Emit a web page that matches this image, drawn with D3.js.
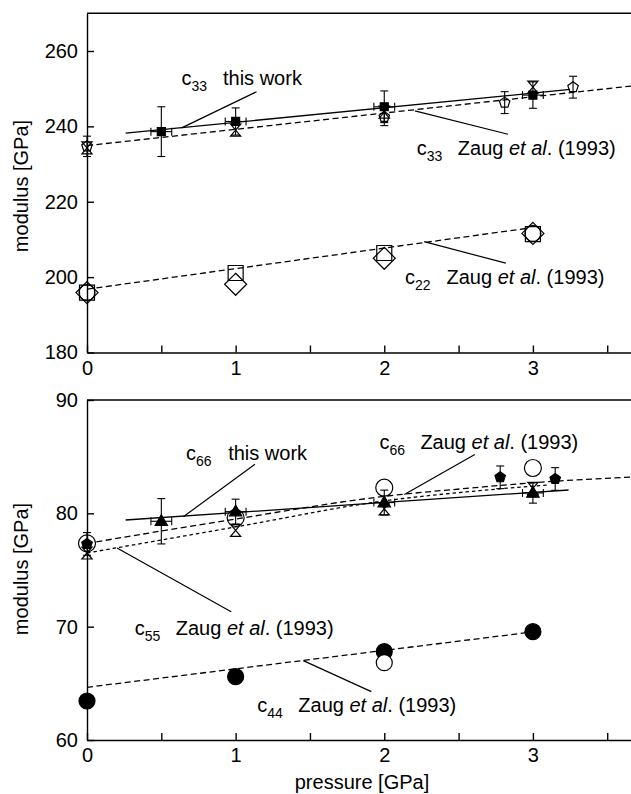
<!DOCTYPE html>
<html>
<head>
<meta charset="utf-8">
<script src="https://cdn.jsdelivr.net/npm/d3@7"></script>
<style>
body { margin: 0; background: #fff; }
text { font-family: Arial, "Liberation Sans", sans-serif; fill: #000; }
</style>
</head>
<body>
<svg id="chart" width="631" height="794"></svg>
<script>
// ---- data (pressure in GPa, modulus in GPa) ----
const pressureTicks = [0, 0.5, 1, 1.5, 2, 2.5, 3, 3.5];
const topTicks = [180, 200, 220, 240, 260];
const bottomTicks = [60, 70, 80, 90];

// upper panel
const c33WorkP = [0.5, 1, 2, 3];
const c33WorkV = [238.6, 241.3, 245.2, 248.3];
const c33WorkErr = [6.6, 3.6, 4.2, 3.5];
const c33WorkFitP = [0.26, 3.25];
const c33WorkFitV = [238.2, 249.8];

const c33ZaugP = [0, 1, 2, 3];
const c33ZaugV = [234.3, 239.0, 243.8, 250.4];
const c33ZaugFitP = [0, 3.66];
const c33ZaugFitV = [234.9, 250.7];

const c33OtherP = [0, 2, 2.81, 3.27];
const c33OtherV = [234.7, 242.5, 246.3, 250.4];
const c33OtherErr = [2.7, 2.3, 2.9, 2.9];

const c22P = [0, 1, 2, 3];
const c22SquareV = [195.9, 201.1, 206.4, 211.4];
const c22DiamondV = [195.9, 198.1, 205.0, 211.6];
const c22CircleP = [0, 3];
const c22CircleV = [195.9, 211.6];
const c22FitP = [0, 2.97];
const c22FitV = [196.8, 213.0];

// lower panel
const c66WorkP = [0.5, 1, 2, 3];
const c66WorkV = [79.3, 80.15, 80.95, 81.8];
const c66WorkErr = [2.0, 1.1, 1.1, 0.9];
const c66WorkFitP = [0.26, 3.24];
const c66WorkFitV = [79.41, 82.06];

const c66ZaugP = [0, 1, 2, 3];
const c66ZaugV = [77.35, 79.6, 82.26, 84.0];
const c66ZaugCurveP = [0, 1, 2, 2.64, 3, 3.66];
const c66ZaugCurveV = [77.35, 79.5, 81.5, 82.3, 82.7, 83.2];

const c55ZaugP = [0, 1, 2, 3];
const c55ZaugV = [76.5, 78.5, 80.4, 82.2];
const c55ZaugCurveP = [0, 1, 2, 2.64, 3.1];
const c55ZaugCurveV = [76.5, 78.8, 81.1, 82.0, 82.5];

const c66OtherP = [0, 2.78, 3.15];
const c66OtherV = [77.3, 83.18, 83.03];
const c66OtherErr = [1.0, 1.0, 1.0];

const c44P = [0, 1, 2, 3];
const c44V = [63.44, 65.59, 67.8, 69.56];
const c44OpenP = [2];
const c44OpenV = [66.82];
const c44FitP = [0, 2.96];
const c44FitV = [64.65, 69.47];

const xErr = 0.07;

const svg = d3.select('#chart');
const x = d3.scaleLinear().domain([0, 3.66]).range([87, 631]);
const yTop = d3.scaleLinear().domain([180, 270]).range([352.5, 13.3]);
const yBot = d3.scaleLinear().domain([60, 90]).range([740, 400]);

const zip = (a, b) => a.map((d, i) => [d, b[i]]);

// ---- symbol paths ----
function square(r) { return `M${-r},${-r}h${2*r}v${2*r}h${-2*r}Z`; }
function diamond(r) { return `M0,${-r}L${r},0L0,${r}L${-r},0Z`; }
function triangle(r) { return `M0,${-r}L${r*0.95},${r*0.65}L${-r*0.95},${r*0.65}Z`; }
function hourglass(r) { return `M${-r*0.85},${-r}H${r*0.85}L${-r*0.85},${r}H${r*0.85}Z`; }
function pentagon(r) {
    var pts = d3.range(5).map(i => {
        var a = -Math.PI/2 + i*2*Math.PI/5;
        return [r*Math.cos(a), r*Math.sin(a)];
    });
    return 'M' + pts.join('L') + 'Z';
}
function circle(r) { return d3.symbol(d3.symbolCircle, Math.PI*r*r)(); }

function drawAxes(y, ticks) {
    var yb = y.range()[0], yt = y.range()[1];
    var gx = svg.append('g')
        .attr('transform', `translate(0,${yb})`)
        .call(d3.axisBottom(x).tickValues(pressureTicks)
            .tickSizeInner(-7).tickSizeOuter(0).tickPadding(8)
            .tickFormat(d => Number.isInteger(d) ? d : ''));
    var gy = svg.append('g')
        .attr('transform', `translate(${x(0)},0)`)
        .call(d3.axisLeft(y).tickValues(ticks)
            .tickSizeInner(-7).tickSizeOuter(0).tickPadding(9));
    [gx, gy].forEach(g => {
        g.attr('font-size', 20);
        g.selectAll('path, line').attr('stroke', '#000').attr('stroke-width', 1.4);
    });
    svg.append('line')
        .attr('x1', x(0)).attr('x2', 631)
        .attr('y1', yt).attr('y2', yt)
        .attr('stroke', '#000').attr('stroke-width', 1.4);
}

function drawLine(y, P, V, dash, curve) {
    var line = d3.line().x(d => x(d[0])).y(d => y(d[1])).curve(curve || d3.curveLinear);
    svg.append('path')
        .attr('d', line(zip(P, V)))
        .attr('fill', 'none')
        .attr('stroke', '#000')
        .attr('stroke-width', 1.3)
        .attr('stroke-dasharray', dash);
}

function drawErrors(y, P, V, E, withX) {
    var g = svg.append('g').attr('stroke', '#000').attr('stroke-width', 1.1);
    P.forEach((p, i) => {
        var cx = x(p), y1 = y(V[i] + E[i]), y2 = y(V[i] - E[i]);
        g.append('line').attr('x1', cx).attr('x2', cx).attr('y1', y1).attr('y2', y2);
        g.append('line').attr('x1', cx-4).attr('x2', cx+4).attr('y1', y1).attr('y2', y1);
        g.append('line').attr('x1', cx-4).attr('x2', cx+4).attr('y1', y2).attr('y2', y2);
        if (withX) {
            var x1 = x(p - xErr), x2 = x(p + xErr), cy = y(V[i]);
            g.append('line').attr('x1', x1).attr('x2', x2).attr('y1', cy).attr('y2', cy);
            g.append('line').attr('x1', x1).attr('x2', x1).attr('y1', cy-4).attr('y2', cy+4);
            g.append('line').attr('x1', x2).attr('x2', x2).attr('y1', cy-4).attr('y2', cy+4);
        }
    });
}

function drawSymbols(y, P, V, shape, filled) {
    svg.append('g').selectAll('path')
        .data(zip(P, V))
        .enter().append('path')
        .attr('transform', d => `translate(${x(d[0])},${y(d[1])})`)
        .attr('d', shape)
        .attr('fill', filled ? '#000' : 'none')
        .attr('stroke', '#000')
        .attr('stroke-width', 1.2);
}

function drawLabel(y, lab) {
    var t = svg.append('text')
        .attr('x', x(lab.cP)).attr('y', y(lab.cV))
        .attr('font-size', 20);
    t.append('tspan').text('c');
    t.append('tspan').attr('font-size', 14).attr('dy', 6).text(lab.sub);
    var r = svg.append('text')
        .attr('x', x(lab.tP)).attr('y', y(lab.cV))
        .attr('font-size', 20);
    if (lab.zaug) {
        r.append('tspan').text('Zaug ');
        r.append('tspan').attr('font-style', 'italic').text('et al');
        r.append('tspan').text('. (1993)');
    } else {
        r.text('this work');
    }
    svg.append('line')
        .attr('x1', x(lab.l[0])).attr('y1', y(lab.l[1]))
        .attr('x2', x(lab.l[2])).attr('y2', y(lab.l[3]))
        .attr('stroke', '#000').attr('stroke-width', 1.2);
}

// annotation anchors (pressure, modulus)
const topLabels = [
    { sub: '33', cP: 0.635, tP: 0.915, cV: 251.0, zaug: false, l: [0.637, 239.6, 1.141, 249.2] },
    { sub: '33', cP: 2.219, tP: 2.495, cV: 232.4, zaug: true, l: [2.206, 244.1, 2.833, 237.9] },
    { sub: '22', cP: 2.14, tP: 2.419, cV: 198.3, zaug: true, l: [2.268, 209.4, 2.818, 203.7] }
];
const bottomLabels = [
    { sub: '66', cP: 0.666, tP: 0.95, cV: 84.7, zaug: false, l: [0.648, 79.7, 1.13, 84.33] },
    { sub: '66', cP: 1.968, tP: 2.243, cV: 85.7, zaug: true, l: [2.135, 81.66, 2.609, 85.19] },
    { sub: '55', cP: 0.321, tP: 0.597, cV: 69.24, zaug: true, l: [0.202, 76.94, 0.97, 71.32] },
    { sub: '44', cP: 1.146, tP: 1.422, cV: 62.47, zaug: true, l: [1.455, 67.0, 1.913, 64.27] }
];

// ---- upper panel ----
drawAxes(yTop, topTicks);
drawLine(yTop, c33ZaugFitP, c33ZaugFitV, '6,3.5');
drawLine(yTop, c22FitP, c22FitV, '6,3.5');
drawLine(yTop, c33WorkFitP, c33WorkFitV, null);
drawErrors(yTop, c33OtherP, c33OtherV, c33OtherErr, false);
drawSymbols(yTop, c33OtherP, c33OtherV, pentagon(5.5), false);
drawSymbols(yTop, c33ZaugP, c33ZaugV, hourglass(6), false);
drawErrors(yTop, c33WorkP, c33WorkV, c33WorkErr, true);
drawSymbols(yTop, c33WorkP, c33WorkV, square(4), true);
drawSymbols(yTop, c22P, c22SquareV, square(7.5), false);
drawSymbols(yTop, c22P, c22DiamondV, diamond(11), false);
drawSymbols(yTop, c22CircleP, c22CircleV, circle(8), false);
topLabels.forEach(l => drawLabel(yTop, l));

// ---- lower panel ----
drawAxes(yBot, bottomTicks);
drawLine(yBot, c66ZaugCurveP, c66ZaugCurveV, '6,3.5', d3.curveMonotoneX);
drawLine(yBot, c55ZaugCurveP, c55ZaugCurveV, '3.5,3', d3.curveMonotoneX);
drawLine(yBot, c44FitP, c44FitV, '6,3.5');
drawLine(yBot, c66WorkFitP, c66WorkFitV, null);
drawSymbols(yBot, c66ZaugP, c66ZaugV, circle(8.5), false);
drawSymbols(yBot, c55ZaugP, c55ZaugV, hourglass(6), false);
drawErrors(yBot, c66OtherP, c66OtherV, c66OtherErr, false);
drawSymbols(yBot, c66OtherP, c66OtherV, pentagon(5.5), true);
drawErrors(yBot, c66WorkP, c66WorkV, c66WorkErr, true);
drawSymbols(yBot, c66WorkP, c66WorkV, triangle(6.5), true);
drawSymbols(yBot, c44P, c44V, circle(8), true);
svg.append('g').selectAll('path')
    .data(zip(c44OpenP, c44OpenV))
    .enter().append('path')
    .attr('transform', d => `translate(${x(d[0])},${yBot(d[1])})`)
    .attr('d', circle(8))
    .attr('fill', '#fff').attr('stroke', '#000').attr('stroke-width', 1.2);
bottomLabels.forEach(l => drawLabel(yBot, l));

// ---- axis titles ----
svg.append('text')
    .attr('transform', `translate(28,186) rotate(-90)`)
    .attr('text-anchor', 'middle').attr('font-size', 20)
    .text('modulus [GPa]');
svg.append('text')
    .attr('transform', `translate(28,569) rotate(-90)`)
    .attr('text-anchor', 'middle').attr('font-size', 20)
    .text('modulus [GPa]');
svg.append('text')
    .attr('x', 362).attr('y', 789)
    .attr('text-anchor', 'middle').attr('font-size', 20)
    .text('pressure [GPa]');
</script>
</body>
</html>
